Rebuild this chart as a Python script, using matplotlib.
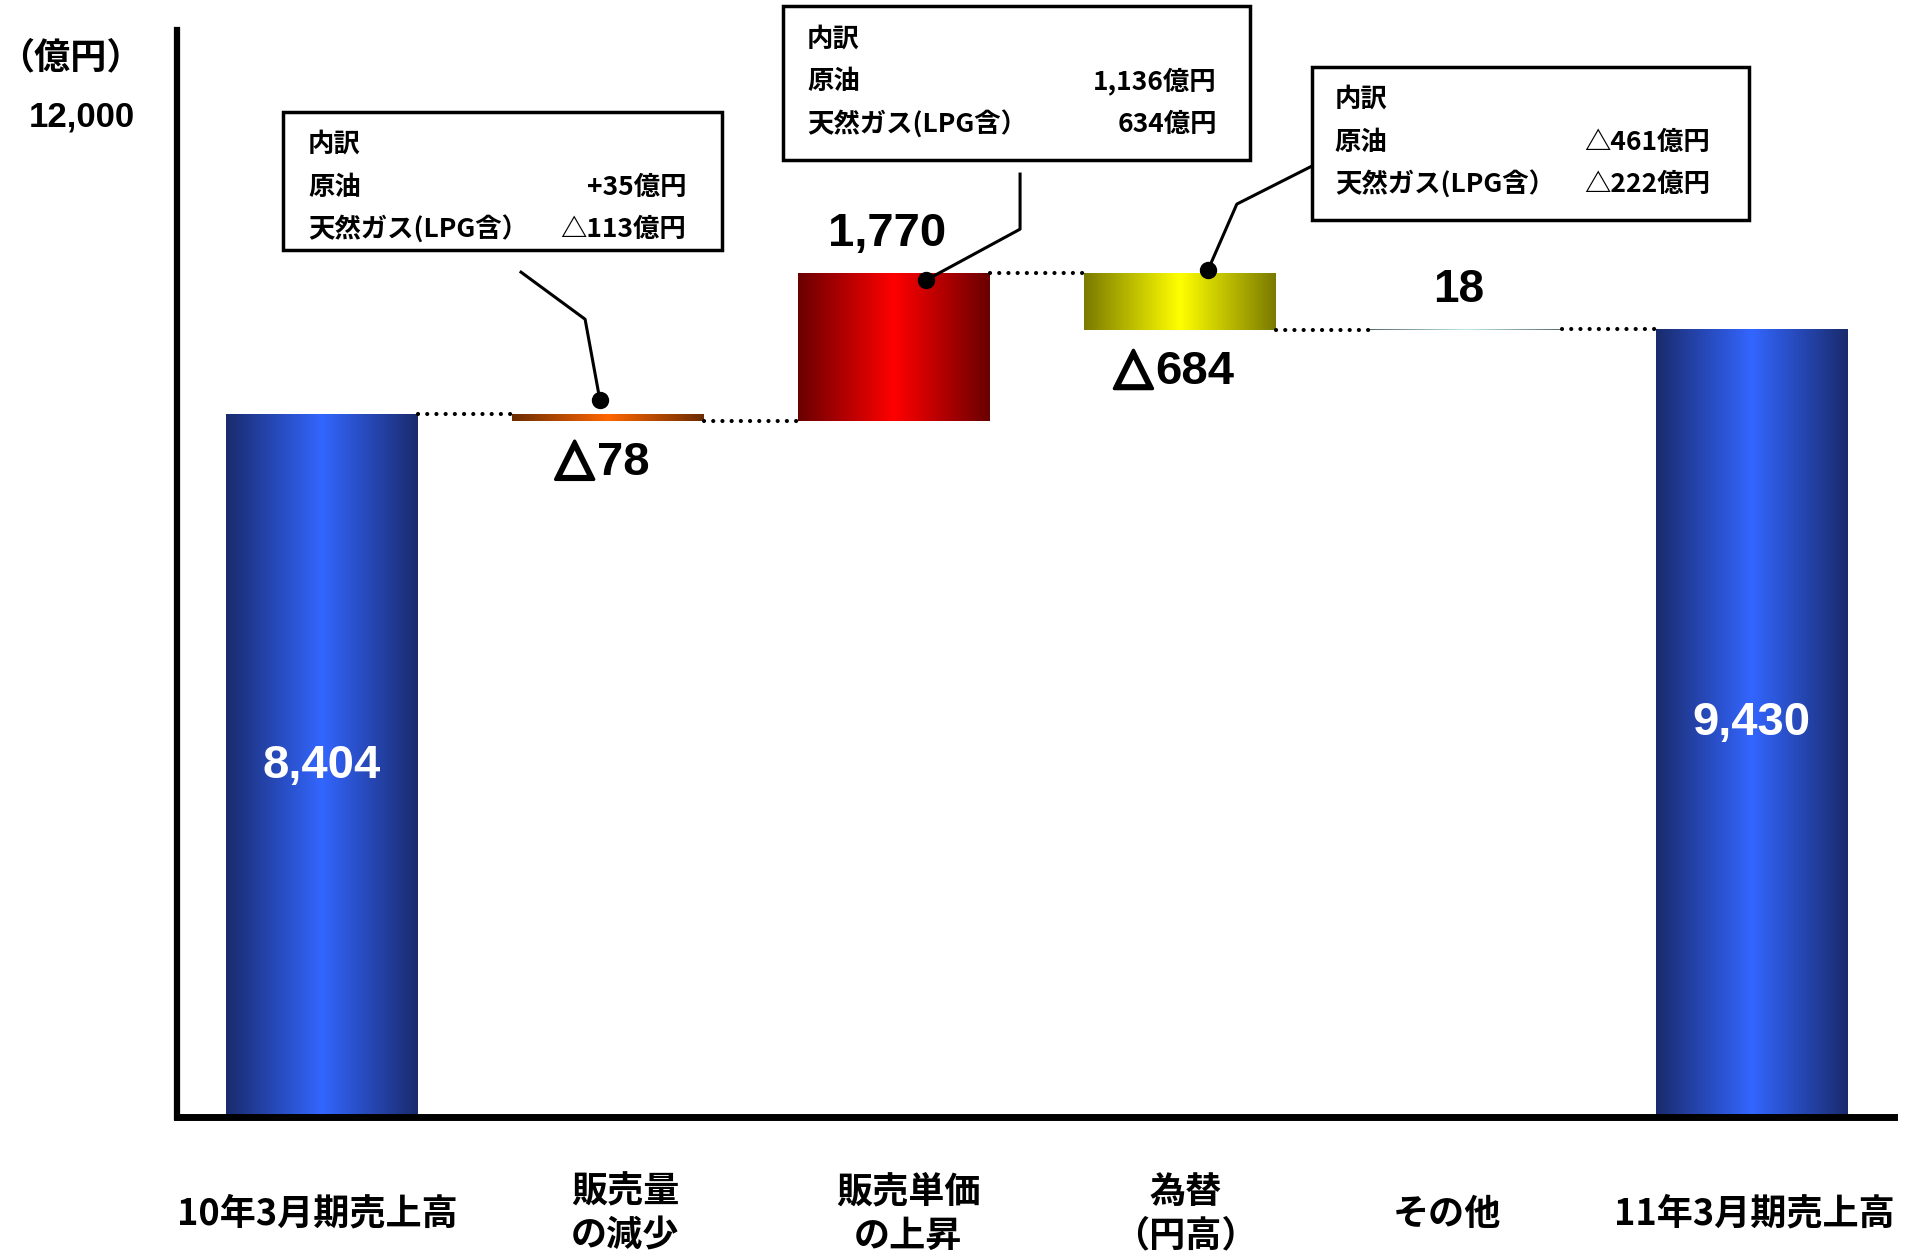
import matplotlib
matplotlib.use("Agg")
import matplotlib.pyplot as plt
import matplotlib.patheffects as pe
import numpy as np
from matplotlib.colors import LinearSegmentedColormap
from matplotlib.patches import Rectangle

plt.rcParams['font.family'] = ['Liberation Sans', 'DejaVu Sans', 'Noto Sans CJK JP']
JP = ['Noto Sans CJK JP', 'DejaVu Sans']

# data (億円)
categories = ['10年3月期売上高', '販売量\nの減少', '販売単価\nの上昇', '為替\n（円高）', 'その他', '11年3月期売上高']
start_value = 8404
deltas = [-78, 1770, -684, 18]
end_value = 9430

breakdown_items = ['原油', '天然ガス(LPG含）']
volume_breakdown = [35, -113]
price_breakdown = [1136, 634]
fx_breakdown = [-461, -222]

# colours: (edge, centre) of each bar's horizontal gradient
bar_colors = [('#1a2b6d', '#3366ff'), ('#6b2c00', '#ff6600'), ('#6a0000', '#ff0000'),
              ('#7a7a00', '#ffff00'), ('#5a6b6b', '#c0e8ea'), ('#1a2b6d', '#3366ff')]
# small horizontal nudges of the category labels, in bar units
label_shift = [-0.015, 0.06, 0.05, 0.02, -0.065, 0.01]


def fmt(v, plus=False):
    if v < 0:
        return '△' + f'{abs(v):,}'
    return ('+' if plus else '') + f'{v:,}'


# waterfall geometry from the data
levels = [start_value]
for d in deltas:
    levels.append(levels[-1] + d)
bottoms = [0] + [min(levels[i], levels[i + 1]) for i in range(len(deltas))] + [0]
heights = [start_value] + [abs(d) for d in deltas] + [end_value]
x = np.arange(len(categories))
width = 0.67

fig = plt.figure(figsize=(19.1, 12.56), dpi=100)
ax = fig.add_axes([177 / 1910, 1 - 1117 / 1256, (1894 - 177) / 1910, (1117 - 30) / 1256])

bars = ax.bar(x, heights, bottom=bottoms, width=width, color='none', linewidth=0)
ramp = np.linspace(0, 1, 256)[None, :]
for bar, (c_edge, c_mid) in zip(bars, bar_colors):
    cmap = LinearSegmentedColormap.from_list('g', [c_edge, c_mid, c_edge])
    x0, y0 = bar.get_x(), bar.get_y()
    im = ax.imshow(ramp, cmap=cmap, aspect='auto', interpolation='bilinear', zorder=1,
                   extent=[x0, x0 + bar.get_width(), y0, y0 + bar.get_height()])
    im.set_clip_path(bar)

# dotted connectors
for i in range(len(x) - 1):
    ax.plot([x[i] + width / 2, x[i + 1] - width / 2], [levels[i], levels[i]],
            ls=(0, (0.01, 2.2)), color='black', lw=3.0, dash_capstyle='round', zorder=2)

ax.set_xlim(-0.507, 5.497)
ax.set_ylim(0, 13000)

# value labels
ax.text(x[0], start_value / 2, f'{start_value:,}', ha='center', va='center',
        color='white', fontsize=34, fontweight='bold', zorder=3)
ax.text(x[-1], end_value / 2, f'{end_value:,}', ha='center', va='center',
        color='white', fontsize=34, fontweight='bold', zorder=3)
for i, d in enumerate(deltas):
    xi = x[i + 1] - 0.025
    if d > 0:
        yi = levels[i + 1] + 460
        ax.text(xi, yi, fmt(d), ha='center', va='center', fontsize=34 if d > 99 else 33,
                fontweight='bold', zorder=3)
    else:
        yi = levels[i + 1] - 500
        # digits, then a heavier triangle glued to their left
        num = ax.annotate(f'{abs(d):,}', xy=(xi, yi), xytext=(16, 0), textcoords='offset points',
                          ha='center', va='center', fontsize=34, fontweight='bold', zorder=3)
        ax.annotate('△', xy=(0, 0), xycoords=num, xytext=(-2, 1), textcoords='offset points',
                    ha='right', va='bottom', fontsize=36, fontweight='bold', zorder=3,
                    path_effects=[pe.withStroke(linewidth=2.4, foreground='black')])

# axes styling
for s in ['top', 'right']:
    ax.spines[s].set_visible(False)
ax.spines['left'].set_linewidth(4.5)
ax.spines['bottom'].set_linewidth(5)
ax.set_yticks([12000])
ax.set_yticklabels(['12,000'], fontsize=25, fontweight='bold')
ax.tick_params(axis='y', length=0, pad=30)
ax.set_xticks([])

# category labels under the axis
for xi, name, dx in zip(x, categories, label_shift):
    ax.annotate(name, xy=(xi + dx, 0), xycoords=('data', 'axes fraction'),
                xytext=(0, -70), textcoords='offset points', ha='center', va='center',
                fontsize=26, fontweight='bold', family=JP, linespacing=1.25,
                annotation_clip=False)

fig.text(70 / 1910, 1 - 58 / 1256, '（億円）', ha='center', va='center',
         fontsize=26, fontweight='bold', family=JP)

# breakdown call-outs (layout in data units)
boxes = [
    dict(rect=(-0.136, 10367, 1.535, 1652), left=-0.049, right=1.273,
         rows=(11636, 11121, 10619), values=volume_breakdown, plus=True,
         leader=([0.696, 0.920, 0.972], [10104, 9541, 8571])),
    dict(rect=(1.612, 11445, 1.633, 1843), left=1.696, right=3.129,
         rows=(12893, 12390, 11875), values=price_breakdown, plus=False,
         leader=([2.441, 2.441, 2.112], [11277, 10618, 10008])),
    dict(rect=(3.462, 10726, 1.528, 1832), left=3.542, right=4.853,
         rows=(12175, 11660, 11157), values=fx_breakdown, plus=False,
         leader=([3.462, 3.199, 3.098], [11373, 10918, 10128])),
]
for b in boxes:
    bx, by, bw, bh = b['rect']
    ax.add_patch(Rectangle((bx, by), bw, bh, facecolor='white', edgecolor='black',
                           lw=2.5, clip_on=False, zorder=5))
    ax.text(b['left'], b['rows'][0], '内訳', ha='left', va='center', fontsize=19,
            fontweight='bold', family=JP, zorder=6, clip_on=False)
    for name, val, yr in zip(breakdown_items, b['values'], b['rows'][1:]):
        ax.text(b['left'], yr, name, ha='left', va='center', fontsize=19,
                fontweight='bold', family=JP, zorder=6, clip_on=False)
        ax.text(b['right'], yr, fmt(val, b['plus']) + '億円', ha='right', va='center',
                fontsize=19, fontweight='bold', family=JP, zorder=6, clip_on=False)
    lx, ly = b['leader']
    ax.plot(lx, ly, color='black', lw=2.2, clip_on=False, zorder=4)
    ax.plot(lx[-1], ly[-1], 'o', color='black', ms=11.5, clip_on=False, zorder=4)

fig.savefig('out.png', dpi=100)
